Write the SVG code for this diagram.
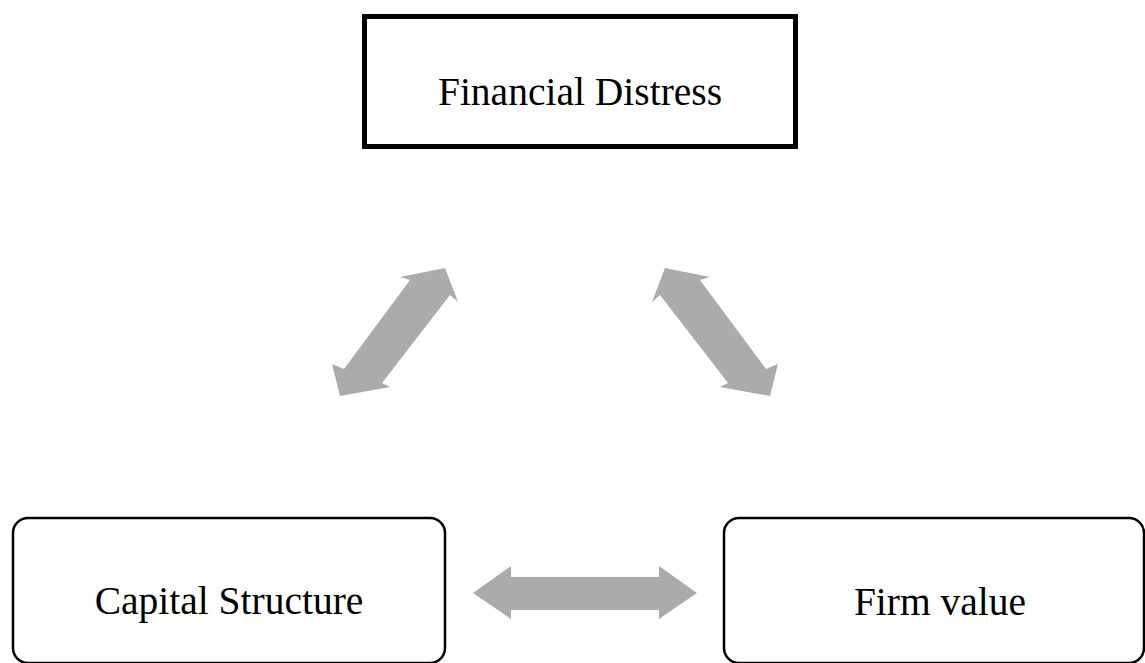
<svg xmlns="http://www.w3.org/2000/svg" width="1145" height="663" viewBox="0 0 1145 663">
<style>
.lbl{font-family:"Liberation Serif","Times New Roman",serif;font-size:39.5px;fill:#000;text-anchor:middle}
.box{fill:#fff;stroke:#000}
.arr{fill:#ababab}
</style>
<rect width="1145" height="663" fill="#fff"/>
<g id="connectors">
<polygon class="arr" points="445,268 458,302 450,295 382,383 390,387 340,396 332,364 344,369 410,280 400,277"/>
<polygon class="arr" points="665,268 652,302 660,295 728,383 720,387 770,396 778,364 766,369 700,280 710,277"/>
<polygon class="arr" points="473,593 511,566 511,577 659,577 659,566 697,593 659,619 659,610 511,610 511,619"/>
</g>
<g id="financial-distress">
<rect class="box" x="364.5" y="16.5" width="431" height="130" stroke-width="5"/>
<text class="lbl" x="580" y="105">Financial Distress</text>
</g>
<g id="capital-structure">
<rect class="box" x="13" y="518" width="432" height="145" rx="15" stroke-width="2.5"/>
<text class="lbl" x="229" y="614">Capital Structure</text>
</g>
<g id="firm-value">
<rect class="box" x="724" y="518" width="420" height="145" rx="15" stroke-width="2.5"/>
<text class="lbl" x="940" y="615">Firm value</text>
</g>
</svg>
